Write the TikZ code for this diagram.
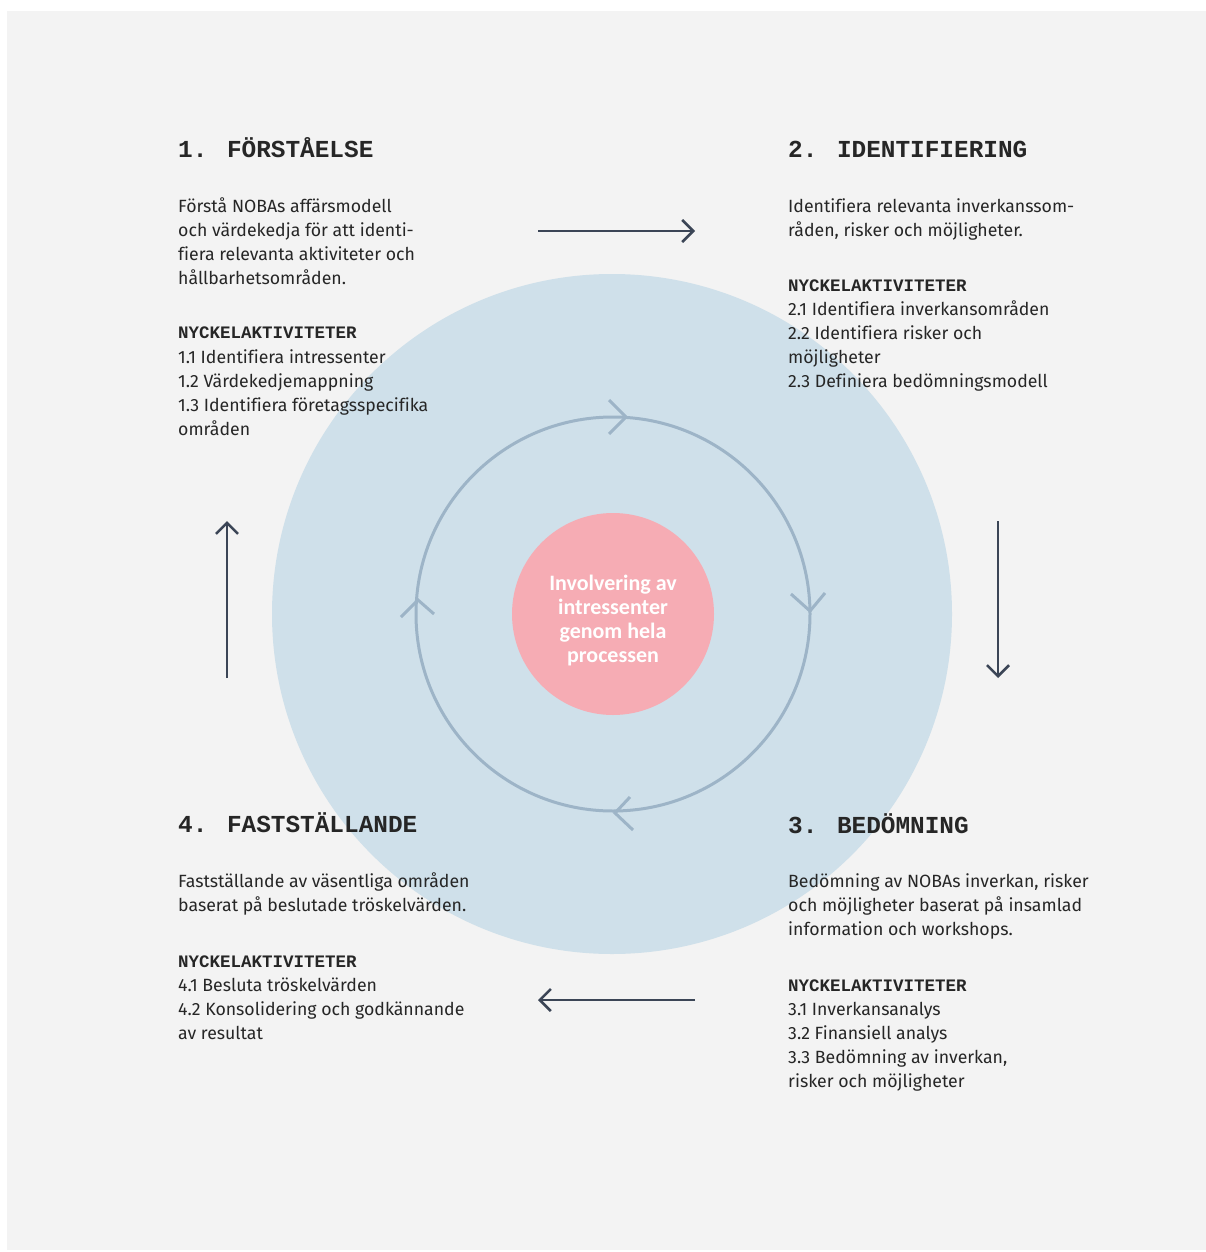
\documentclass[tikz,border=0pt]{standalone}
\usepackage{fontspec}
\setmainfont{Fira Sans}[Ligatures=CommonOff]
\newfontfamily\monofam{Liberation Mono}
\newfontfamily\corefam{Carlito}
\usetikzlibrary{arrows.meta}
\definecolor{bggray}{HTML}{F3F3F3}
\definecolor{outerblue}{HTML}{CFE0EA}
\definecolor{ringblue}{HTML}{9DB4C7}
\definecolor{corepink}{HTML}{F6ACB4}
\definecolor{darkarrow}{HTML}{3B4556}
\definecolor{txt}{HTML}{262626}
\tikzset{
  title/.style={anchor=base west, inner sep=0pt, text=txt, font=\monofam\bfseries\fontsize{24.4}{30}\selectfont},
  body/.style={anchor=base west, inner sep=0pt, text=txt, font=\fontsize{17.7}{24}\selectfont},
  keyhead/.style={anchor=base west, inner sep=0pt, text=txt, font=\monofam\bfseries\fontsize{17.5}{24}\selectfont},
  flow/.style={draw=darkarrow, line width=2.6pt, -{Straight Barb[length=11pt,width=22pt]}},
  chev/.style={draw=ringblue, line width=3pt},
  centertext/.style={anchor=base, inner sep=0pt, text=white, font=\corefam\bfseries\fontsize{22}{24}\selectfont}
}
\newcommand{\blines}[1]{\begin{tabular}[t]{@{}l@{}}#1\end{tabular}}
\begin{document}
\begin{tikzpicture}[x=1pt,y=-1pt]
\useasboundingbox (0,0) rectangle (1206,1252);
\fill[bggray] (7,11) rectangle (1206,1250);
% outer circle
\node[circle, fill=outerblue, minimum size=680pt, inner sep=0pt] (outer) at (612,614) {};
% ring
\node[circle, draw=ringblue, line width=3pt, minimum size=394pt, inner sep=0pt] (ring) at (613,614) {};
% chevrons on ring
\draw[chev] (609,400) -- (626,417) -- (609,434);
\draw[chev] (791,594) -- (810,611) -- (825,593);
\draw[chev] (630,797) -- (615,813) -- (633,830);
\draw[chev] (401,617) -- (418,600) -- (434,614);
% core
\node[circle, fill=corepink, minimum size=202pt, inner sep=0pt] (core) at (613,614) {};
\node[centertext] (coretext) at (613,590) {\begin{tabular}[t]{@{}c@{}}Involvering av\\intressenter\\genom hela\\processen\end{tabular}};
% block 1
\node[title] (t1) at (178,158) {1. FÖRSTÅELSE};
\node[body] (b1) at (178,212) {\blines{Förstå NOBAs affärsmodell\\och värdekedja för att identi-\\fiera relevanta aktiviteter och\\hållbarhetsområden.}};
\node[keyhead] (k1) at (178,338) {NYCKELAKTIVITETER};
\node[body] (a1) at (178,363) {\blines{1.1 Identifiera intressenter\\1.2 Värdekedjemappning\\1.3 Identifiera företagsspecifika\\områden}};
% block 2
\node[title] (t2) at (788,158) {2. IDENTIFIERING};
\node[body] (b2) at (788,212) {\blines{Identifiera relevanta inverkanssom-\\råden, risker och möjligheter.}};
\node[keyhead] (k2) at (788,291) {NYCKELAKTIVITETER};
\node[body] (a2) at (788,315) {\blines{2.1 Identifiera inverkansområden\\2.2 Identifiera risker och\\möjligheter\\2.3 Definiera bedömningsmodell}};
% block 3
\node[title] (t3) at (788,833) {3. BEDÖMNING};
\node[body] (b3) at (788,887) {\blines{Bedömning av NOBAs inverkan, risker\\och möjligheter baserat på insamlad\\information och workshops.}};
\node[keyhead] (k3) at (788,991) {NYCKELAKTIVITETER};
\node[body] (a3) at (788,1015) {\blines{3.1 Inverkansanalys\\3.2 Finansiell analys\\3.3 Bedömning av inverkan,\\risker och möjligheter}};
% block 4
\node[title] (t4) at (178,832) {4. FASTSTÄLLANDE};
\node[body] (b4) at (178,887) {\blines{Fastställande av väsentliga områden\\baserat på beslutade tröskelvärden.}};
\node[keyhead] (k4) at (178,967) {NYCKELAKTIVITETER};
\node[body] (a4) at (178,991) {\blines{4.1 Besluta tröskelvärden\\4.2 Konsolidering och godkännande\\av resultat}};
% flow arrows
\coordinate (f1s) at (538,231); \coordinate (f1e) at (695,231);
\coordinate (f2s) at (998,521); \coordinate (f2e) at (998,678);
\coordinate (f3s) at (695,1000); \coordinate (f3e) at (538,1000);
\coordinate (f4s) at (227,678); \coordinate (f4e) at (227,521);
\draw[flow] (f1s) -- (f1e);
\draw[flow] (f2s) -- (f2e);
\draw[flow] (f3s) -- (f3e);
\draw[flow] (f4s) -- (f4e);
\end{tikzpicture}
\end{document}
